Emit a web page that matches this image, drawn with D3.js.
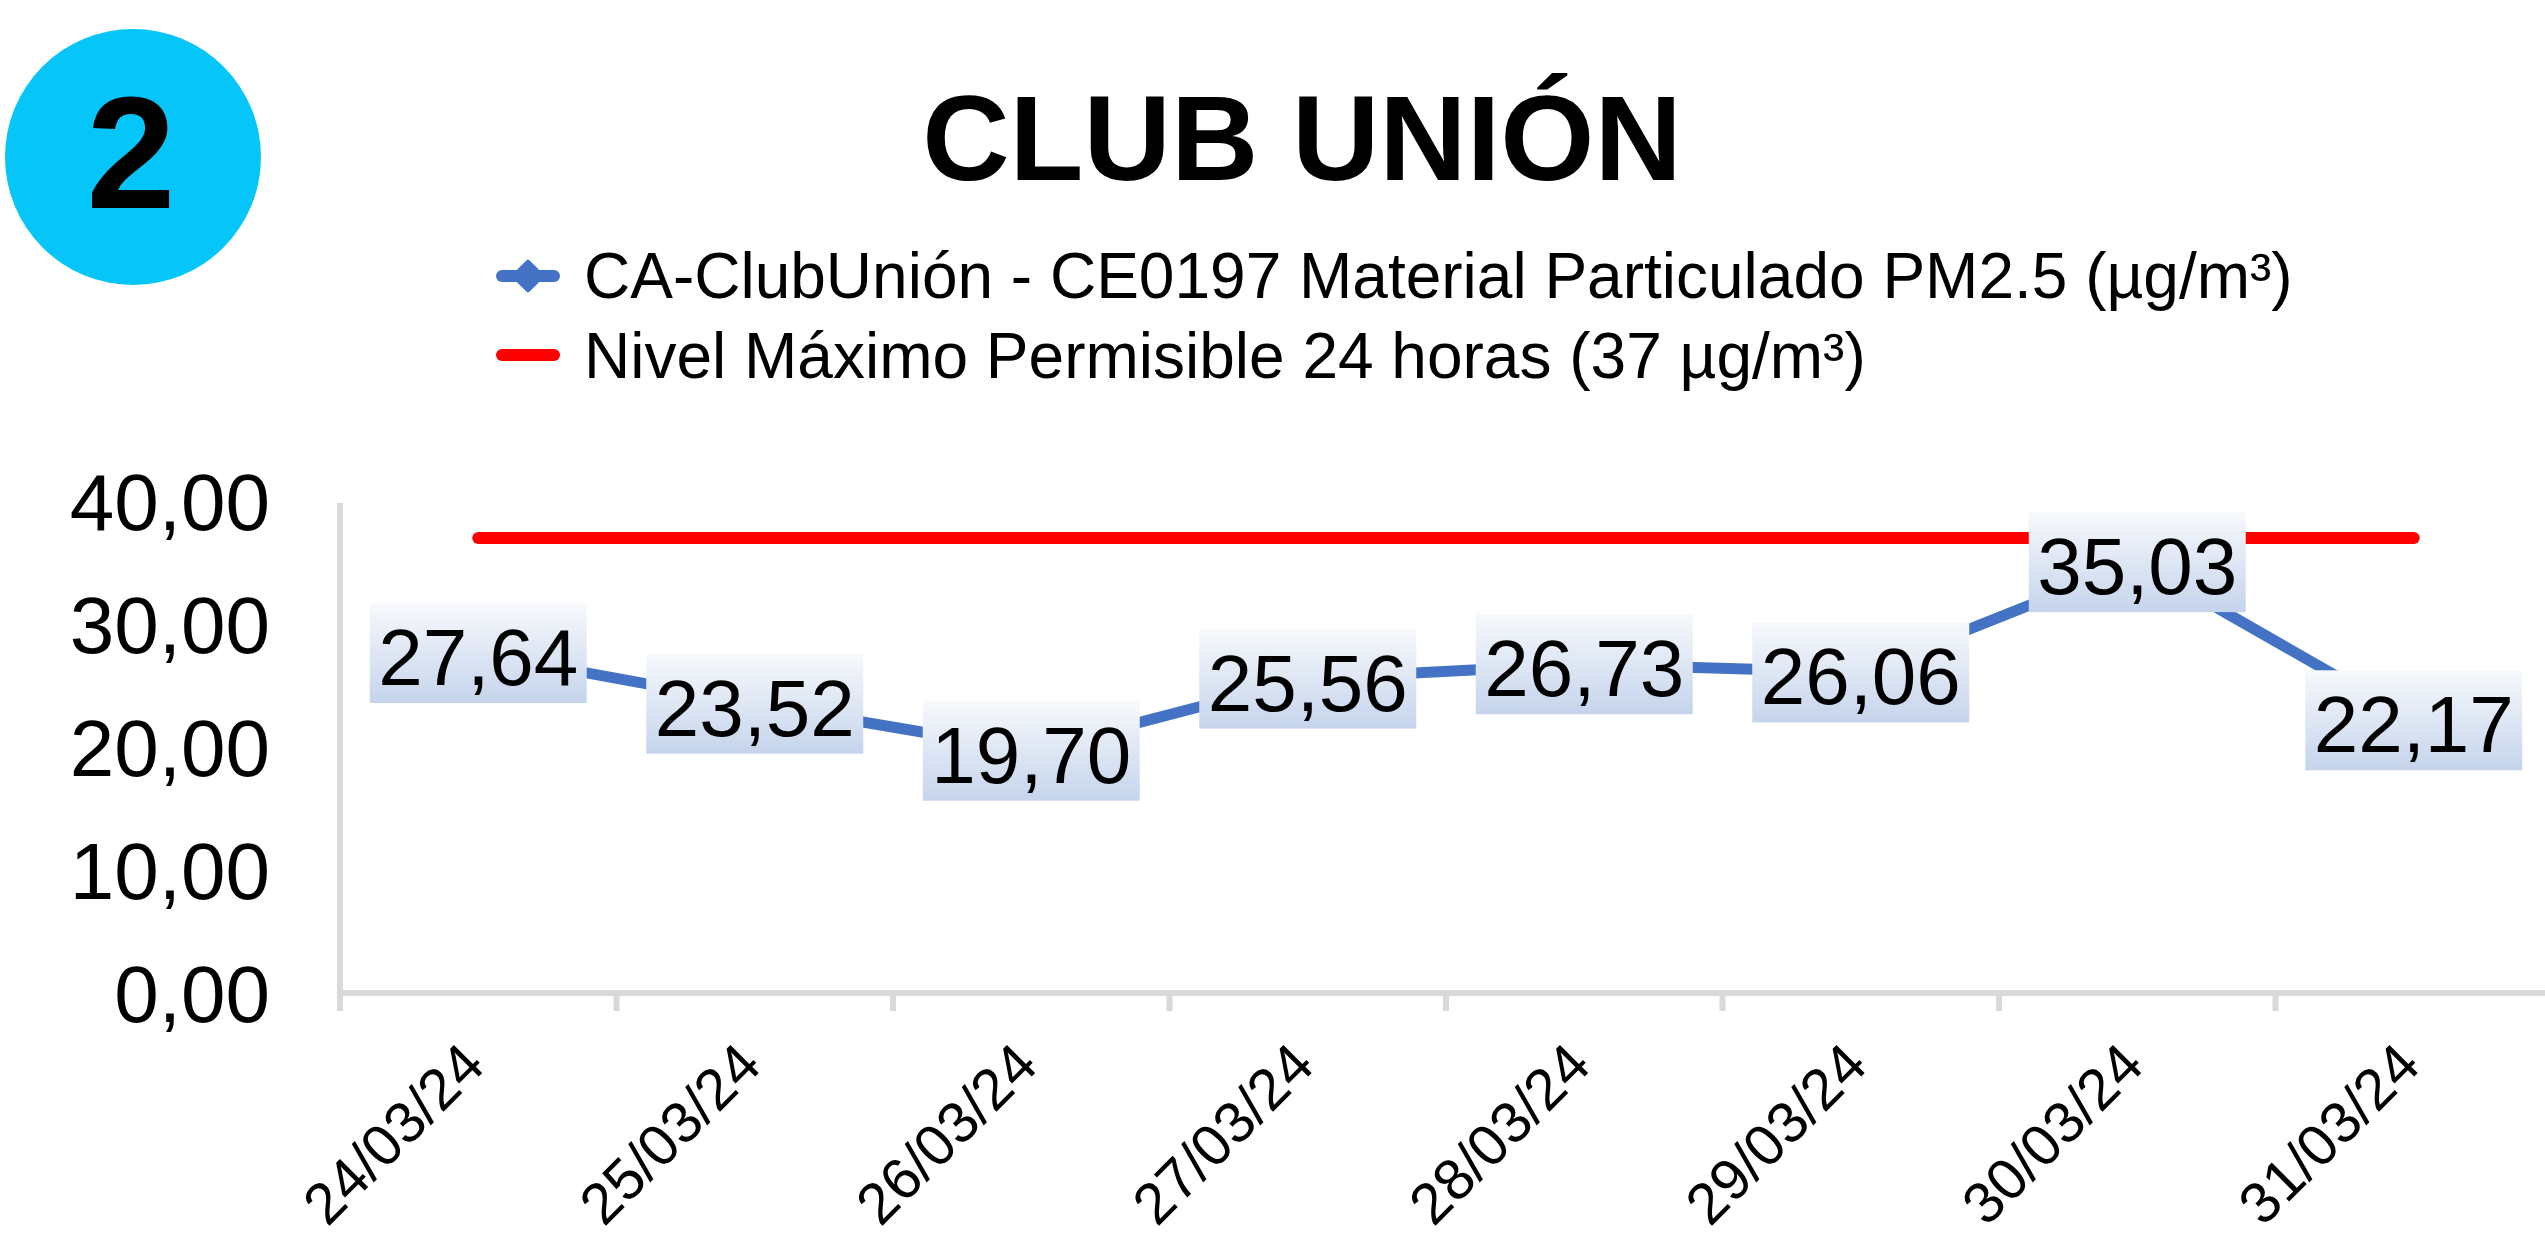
<!DOCTYPE html>
<html>
<head>
	<title>Club Unión PM2.5</title>
</head>
<style type="text/css">
	html, body {margin:0px; padding:0px; background:#fff;}
	svg {display:block;}
	text {font-family: "Liberation Sans", Arial, sans-serif; fill:#000;}
</style>
<body>

	<svg></svg>

<script src="https://d3js.org/d3.v7.min.js"></script>
<script type="text/javascript">

	// data
	var dates = ['24/03/24','25/03/24','26/03/24','27/03/24','28/03/24','29/03/24','30/03/24','31/03/24'];
	var pm25 = [27.64, 23.52, 19.70, 25.56, 26.73, 26.06, 35.03, 22.17];
	var limite = [37, 37, 37, 37, 37, 37, 37, 37];
	var yTicks = [0, 10, 20, 30, 40];
	var seriesNames = ['CA-ClubUnión - CE0197 Material Particulado PM2.5 (µg/m³)', 'Nivel Máximo Permisible 24 horas (37 µg/m³)'];
	var titulo = 'CLUB UNIÓN';
	var numero = '2';

	const W = 2545, H = 1237;
	const svg = d3.select('svg').attr('width', W).attr('height', H);

	const blue = '#4472c4', red = '#ff0000', grey = '#d9d9d9';

	// scales
	let x = d3.scaleBand().domain(dates).range([340, 340 + 8*276.5]).padding(0);
	let y = d3.scaleLinear().domain([0, 40]).range([993, 501]);
	let cx = function(d) { return x(d) + x.bandwidth()/2; };

	// gradient for data labels
	let grad = svg.append('defs').append('linearGradient')
		.attr('id', 'lblGrad').attr('x1', 0).attr('y1', 0).attr('x2', 0).attr('y2', 1);
	grad.append('stop').attr('offset', '0%').attr('stop-color', '#f7f9fc');
	grad.append('stop').attr('offset', '100%').attr('stop-color', '#c5d4ec');

	// badge
	svg.append('circle').attr('cx', 133).attr('cy', 157).attr('r', 128).attr('fill', '#05c5f9');
	svg.append('text').attr('x', 131).attr('y', 208).attr('text-anchor', 'middle')
		.style('font-size', '160px').style('font-weight', 'bold').text(numero);

	// title
	svg.append('text').attr('x', 1302).attr('y', 180).attr('text-anchor', 'middle')
		.style('font-size', '121px').style('font-weight', 'bold').text(titulo);

	// legend
	let leg = svg.append('g');
	leg.append('line').attr('x1', 502).attr('x2', 554).attr('y1', 276).attr('y2', 276)
		.attr('stroke', blue).attr('stroke-width', 12).attr('stroke-linecap', 'round');
	leg.append('path').attr('d', d3.symbol(d3.symbolDiamond2, 520)()).attr('transform', 'translate(528,276)')
		.attr('fill', blue).attr('stroke', blue).attr('stroke-width', 4).attr('stroke-linejoin', 'round');
	leg.append('line').attr('x1', 502).attr('x2', 554).attr('y1', 355).attr('y2', 355)
		.attr('stroke', red).attr('stroke-width', 12).attr('stroke-linecap', 'round');
	leg.selectAll('text.leg').data(seriesNames).enter().append('text')
		.attr('class', 'leg').attr('x', 584).attr('y', function(d,i) { return 298 + i*80; })
		.style('font-size', '64px').text(function(d) { return d; });

	// axes
	svg.append('line').attr('x1', 340).attr('x2', 340).attr('y1', y(40) + 2).attr('y2', y(0))
		.attr('stroke', grey).attr('stroke-width', 6);
	svg.append('line').attr('x1', 337).attr('x2', 340 + 8*276.5).attr('y1', y(0)).attr('y2', y(0))
		.attr('stroke', grey).attr('stroke-width', 6);
	svg.selectAll('line.tick').data(dates.concat(['end'])).enter().append('line')
		.attr('class', 'tick')
		.attr('x1', function(d,i) { return 340 + i*x.step(); })
		.attr('x2', function(d,i) { return 340 + i*x.step(); })
		.attr('y1', y(0)).attr('y2', 1011)
		.attr('stroke', grey).attr('stroke-width', 6);

	let yAxis = d3.axisLeft(y).tickValues(yTicks).tickSize(0).tickPadding(70)
		.tickFormat(function(d) { return d3.format('.2f')(d).replace('.', ','); });
	let yg = svg.append('g').attr('transform', 'translate(340,0)').call(yAxis);
	yg.select('.domain').remove();
	yg.selectAll('text').attr('dy', '0.35em').style('font-size', '80px')
		.style('font-family', '"Liberation Sans", Arial, sans-serif').attr('fill', '#000');

	// x labels
	svg.selectAll('text.xlab').data(dates).enter().append('text')
		.attr('class', 'xlab')
		.attr('text-anchor', 'end')
		.attr('transform', function(d) { return 'translate(' + (cx(d) + 9) + ',1068) rotate(-45)'; })
		.style('font-size', '58px')
		.text(function(d) { return d; });

	// limit line
	svg.append('path').datum(limite)
		.attr('d', d3.line().x(function(d,i) { return cx(dates[i]); }).y(function(d) { return y(d); }))
		.attr('fill', 'none').attr('stroke', red).attr('stroke-width', 12).attr('stroke-linecap', 'round');

	// PM2.5 series
	svg.append('path').datum(pm25)
		.attr('d', d3.line().x(function(d,i) { return cx(dates[i]); }).y(function(d) { return y(d); }))
		.attr('fill', 'none').attr('stroke', blue).attr('stroke-width', 11).attr('stroke-linejoin', 'round');

	// data labels
	let lbl = svg.selectAll('g.lbl').data(pm25).enter().append('g')
		.attr('class', 'lbl')
		.attr('transform', function(d,i) { return 'translate(' + cx(dates[i]) + ',' + y(d) + ')'; });
	lbl.append('rect').attr('x', -108.5).attr('y', -50).attr('width', 217).attr('height', 100)
		.attr('fill', 'url(#lblGrad)');
	lbl.append('text').attr('text-anchor', 'middle').attr('dy', '0.4em')
		.style('font-size', '80px')
		.text(function(d) { return d3.format('.2f')(d).replace('.', ','); });

</script>
</body>
</html>
